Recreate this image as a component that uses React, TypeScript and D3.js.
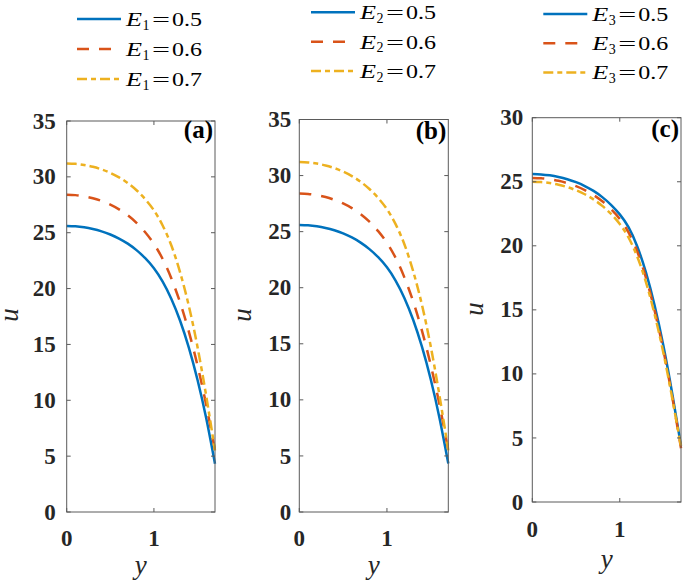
import React from 'react';
import * as d3 from 'd3';

// ---------- data ----------
const Y_GRID = [0, 0.1, 0.2, 0.3, 0.4, 0.5, 0.6, 0.7, 0.8, 0.9, 1.0, 1.1, 1.2, 1.3, 1.4, 1.5, 1.6, 1.7];

// panel (a): E1 = 0.5, 0.6, 0.7
const A_E05 = [25.6, 25.57, 25.48, 25.33, 25.12, 24.84, 24.48, 24.02, 23.44, 22.72, 21.82, 20.62, 19.07, 17.12, 14.72, 11.82, 8.37, 4.32];
const A_E06 = [28.4, 28.365, 28.26, 28.085, 27.84, 27.515, 27.095, 26.56, 25.885, 25.045, 24.0, 22.65, 20.9, 18.75, 16.15, 13.1, 9.55, 5.5];
const A_E07 = [31.2, 31.167, 31.067, 30.9, 30.667, 30.356, 29.956, 29.445, 28.8, 28.0, 27.0, 25.65, 23.85, 21.45, 18.45, 14.75, 10.35, 5.5];

// panel (b): E2 = 0.5, 0.6, 0.7
const B_E05 = [25.6, 25.57, 25.48, 25.33, 25.12, 24.84, 24.48, 24.02, 23.44, 22.72, 21.82, 20.62, 19.07, 17.12, 14.72, 11.82, 8.37, 4.32];
const B_E06 = [28.4, 28.365, 28.26, 28.085, 27.84, 27.515, 27.095, 26.56, 25.885, 25.045, 24.0, 22.65, 20.9, 18.75, 16.15, 13.1, 9.55, 5.5];
const B_E07 = [31.2, 31.167, 31.067, 30.9, 30.667, 30.356, 29.956, 29.445, 28.8, 28.0, 27.0, 25.65, 23.85, 21.45, 18.45, 14.75, 10.35, 5.5];

// panel (c): E3 = 0.5, 0.6, 0.7
const C_E05 = [25.6, 25.575, 25.5, 25.375, 25.2, 24.967, 24.667, 24.284, 23.801, 23.201, 22.451, 21.45, 19.95, 17.9, 15.3, 12.15, 8.45, 4.4];
const C_E06 = [25.3, 25.275, 25.199, 25.072, 24.894, 24.657, 24.352, 23.963, 23.472, 22.862, 22.1, 21.05, 19.55, 17.5, 14.9, 11.8, 8.2, 4.2];
const C_E07 = [25.0, 24.974, 24.895, 24.764, 24.581, 24.337, 24.023, 23.621, 23.115, 22.486, 21.7, 20.65, 19.15, 17.15, 14.6, 11.6, 8.1, 4.3];

const X_TICKS = [0, 1];
const U_TICKS_AB = [0, 5, 10, 15, 20, 25, 30, 35];
const U_TICKS_C = [0, 5, 10, 15, 20, 25, 30];
const LEGEND_VALUES = ['0.5', '0.6', '0.7'];
const PANEL_TAGS = ['(a)', '(b)', '(c)'];
const SUBSCRIPTS = ['1', '2', '3'];

// ---------- styles ----------
const COLORS = ['#0072BD', '#D95319', '#EDB120'];
const DASHES = [undefined, '12,10', '10,4,5,4'];
const FONT = 'Liberation Serif, Times New Roman, serif';
const AXIS_COLOR = '#5a5a5a';

const PANELS = [
  { x0: 66.7, x1: 215, y0: 121, y1: 512, uMax: 35, uTicks: U_TICKS_AB, series: [A_E05, A_E06, A_E07],
    tickGap: 11, xTickBase: 546, uLabelX: 17.5, uLabelY: 315, yLabelBase: 574,
    legX: 77, legY: 19, legDy: 30, tagY: 138 },
  { x0: 299.3, x1: 448.3, y0: 119.5, y1: 512, uMax: 35, uTicks: U_TICKS_AB, series: [B_E05, B_E06, B_E07],
    tickGap: 8, xTickBase: 546, uLabelX: 250.5, uLabelY: 315, yLabelBase: 574,
    legX: 311, legY: 12.3, legDy: 29.4, tagY: 139 },
  { x0: 532.3, x1: 681, y0: 117.7, y1: 502, uMax: 30, uTicks: U_TICKS_C, series: [C_E05, C_E06, C_E07],
    tickGap: 9, xTickBase: 537, uLabelX: 482.5, uLabelY: 309, yLabelBase: 568,
    legX: 543.3, legY: 14, legDy: 29.2, tagY: 137 },
];

function Panel({ p, idx }: { p: any; idx: number }) {
  const x = d3.scaleLinear().domain([0, 1.7]).range([p.x0, p.x1]);
  const u = d3.scaleLinear().domain([0, p.uMax]).range([p.y1, p.y0]);
  const line = d3
    .line<number>()
    .x((_, i) => x(Y_GRID[i]))
    .y((d) => u(d))
    .curve(d3.curveNatural);
  const tl = 4;
  return (
    <g>
      {p.series.map((s: number[], k: number) => (
        <path key={k} d={line(s) || ''} fill="none" stroke={COLORS[k]} strokeWidth={2.5}
          strokeDasharray={DASHES[k]} strokeLinecap="butt" />
      ))}
      <rect x={p.x0} y={p.y0} width={p.x1 - p.x0} height={p.y1 - p.y0} fill="none" stroke={AXIS_COLOR} strokeWidth={1} />
      {p.uTicks.map((t: number) => (
        <g key={'u' + t}>
          <line x1={p.x0} x2={p.x0 + tl} y1={u(t)} y2={u(t)} stroke={AXIS_COLOR} strokeWidth={1} />
          <line x1={p.x1} x2={p.x1 - tl} y1={u(t)} y2={u(t)} stroke={AXIS_COLOR} strokeWidth={1} />
          <text x={p.x0 - p.tickGap} y={u(t)} dy="0.33em" textAnchor="end" fontFamily={FONT}
            fontWeight="bold" fontSize={23} fill="#262626">{t}</text>
        </g>
      ))}
      {X_TICKS.map((t) => (
        <g key={'x' + t}>
          <line x1={x(t)} x2={x(t)} y1={p.y1} y2={p.y1 - tl} stroke={AXIS_COLOR} strokeWidth={1} />
          <line x1={x(t)} x2={x(t)} y1={p.y0} y2={p.y0 + tl} stroke={AXIS_COLOR} strokeWidth={1} />
          <text x={x(t)} y={p.xTickBase} textAnchor="middle" fontFamily={FONT}
            fontWeight="bold" fontSize={23} fill="#262626">{t}</text>
        </g>
      ))}
      <text transform={`translate(${p.uLabelX},${p.uLabelY}) rotate(-90)`} textAnchor="middle"
        fontFamily={FONT} fontStyle="italic" fontSize={27} fill="#262626">u</text>
      <text x={(p.x0 + p.x1) / 2} y={p.yLabelBase} textAnchor="middle"
        fontFamily={FONT} fontStyle="italic" fontSize={27} fill="#262626">y</text>
      <text x={p.x1 - 2} y={p.tagY} textAnchor="end" fontFamily={FONT} fontWeight="bold"
        fontSize={25} fill="#000">{PANEL_TAGS[idx]}</text>
      {LEGEND_VALUES.map((v, k) => {
        const ly = p.legY + k * p.legDy;
        const tx = p.legX + 49;
        return (
          <g key={'l' + k}>
            <line x1={p.legX} x2={p.legX + 44} y1={ly} y2={ly} stroke={COLORS[k]} strokeWidth={2.5}
              strokeDasharray={DASHES[k]} />
            <text x={tx} y={ly + 7} fontFamily={FONT} fontStyle="italic" fontSize={19} fill="#000"
              textLength={16} lengthAdjust="spacingAndGlyphs">E</text>
            <text x={tx + 16.5} y={ly + 10.5} fontFamily={FONT} fontSize={14} fill="#000">{SUBSCRIPTS[idx]}</text>
            <text x={tx + 26} y={ly + 7} fontFamily={FONT} fontSize={19} fill="#000"
              textLength={18} lengthAdjust="spacingAndGlyphs">=</text>
            <text x={tx + 46} y={ly + 7} fontFamily={FONT} fontSize={19} fill="#000"
              textLength={30} lengthAdjust="spacingAndGlyphs">{v}</text>
          </g>
        );
      })}
    </g>
  );
}

export default function App() {
  return (
    <svg width={685} height={585} viewBox="0 0 685 585"
      style={{ position: 'absolute', left: 0, top: 0, background: '#fff' }}>
      <rect width={685} height={585} fill="#fff" />
      {PANELS.map((p, i) => (
        <Panel key={i} p={p} idx={i} />
      ))}
    </svg>
  );
}
